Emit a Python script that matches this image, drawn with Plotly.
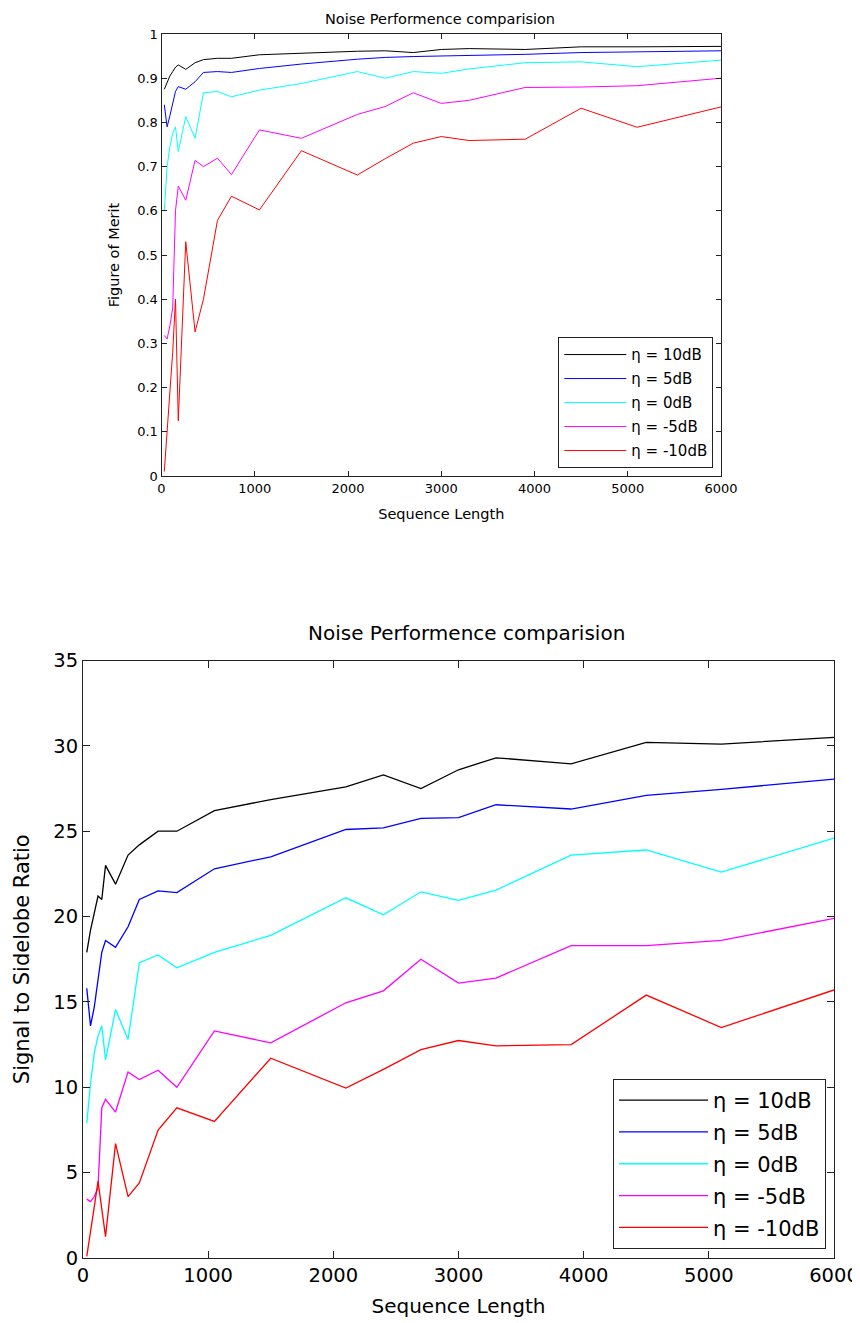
import plotly.graph_objects as go

# ---------------- data ----------------
seq_len = [30, 60, 90, 120, 150, 180, 260, 360, 450, 600, 750, 1050, 1500,
           2100, 2400, 2700, 3000, 3300, 3900, 4500, 5100, 6000]

labels = ["η = 10dB", "η = 5dB", "η = 0dB", "η = -5dB", "η = -10dB"]
colors = ["#000000", "#0000ff", "#00ffff", "#ff00ff", "#ff0000"]

# Figure of Merit (top chart)
fom_10 = [0.875, 0.89, 0.905, 0.915, 0.925, 0.93, 0.92, 0.935, 0.942, 0.945, 0.945,
          0.953, 0.957, 0.961, 0.962, 0.958, 0.965, 0.967, 0.965, 0.971, 0.971, 0.972]
fom_5 = [0.84, 0.79, 0.815, 0.845, 0.87, 0.881, 0.875, 0.892, 0.913, 0.915, 0.913,
         0.922, 0.932, 0.943, 0.947, 0.949, 0.95, 0.951, 0.954, 0.958, 0.96, 0.962]
fom_0 = [0.60, 0.70, 0.745, 0.775, 0.79, 0.734, 0.813, 0.764, 0.867, 0.870, 0.858,
         0.873, 0.888, 0.915, 0.90, 0.915, 0.911, 0.921, 0.935, 0.937, 0.926, 0.941]
fom_m5 = [0.318, 0.31, 0.34, 0.38, 0.60, 0.656, 0.624, 0.714, 0.70, 0.719, 0.682,
          0.783, 0.764, 0.818, 0.836, 0.867, 0.843, 0.85, 0.879, 0.88, 0.883, 0.90]
fom_m10 = [0.01, 0.09, 0.19, 0.28, 0.40, 0.125, 0.53, 0.326, 0.40, 0.578, 0.633,
           0.602, 0.736, 0.681, 0.718, 0.753, 0.768, 0.759, 0.762, 0.832, 0.789, 0.835]

# Signal to Sidelobe Ratio (bottom chart)
ssr_10 = [17.9, 19.2, 20.2, 21.2, 21.0, 23.0, 21.9, 23.6, 24.2, 25.0, 25.0,
          26.2, 26.85, 27.6, 28.3, 27.5, 28.6, 29.3, 28.95, 30.2, 30.1, 30.5]
ssr_5 = [15.8, 13.6, 14.7, 16.4, 17.9, 18.6, 18.2, 19.4, 21.0, 21.5, 21.4,
         22.8, 23.5, 25.1, 25.2, 25.75, 25.8, 26.55, 26.3, 27.1, 27.45, 28.05]
ssr_0 = [7.9, 10.2, 12.0, 13.0, 13.6, 11.6, 14.55, 12.8, 17.3, 17.75, 17.0,
         17.9, 18.9, 21.1, 20.1, 21.45, 20.95, 21.55, 23.6, 23.9, 22.6, 24.6]
ssr_m5 = [3.45, 3.3, 3.6, 4.1, 8.8, 9.3, 8.55, 10.9, 10.45, 11.0, 10.0,
          13.3, 12.6, 14.95, 15.65, 17.5, 16.1, 16.4, 18.3, 18.3, 18.6, 19.9]
ssr_m10 = [0.1, 1.7, 3.0, 4.5, 2.9, 1.25, 6.7, 3.6, 4.4, 7.5, 8.8,
           8.0, 11.7, 9.95, 11.05, 12.2, 12.74, 12.43, 12.5, 15.4, 13.5, 15.7]

x_ticks = [0, 1000, 2000, 3000, 4000, 5000, 6000]
fom_ticks = [0, 0.1, 0.2, 0.3, 0.4, 0.5, 0.6, 0.7, 0.8, 0.9, 1]
fom_ticktext = ["0", "0.1", "0.2", "0.3", "0.4", "0.5", "0.6", "0.7", "0.8", "0.9", "1"]
ssr_ticks = [0, 5, 10, 15, 20, 25, 30, 35]

title_text = "Noise Performence comparision"

# ---------------- figure ----------------
# the page body has an 8px margin, so the figure is 8px smaller and
# screen positions are offset by 8px
OFF = 8
W, H = 860 - OFF, 1323 - OFF
FONT = "DejaVu Sans"
fig = go.Figure()

fom_series = [fom_10, fom_5, fom_0, fom_m5, fom_m10]
ssr_series = [ssr_10, ssr_5, ssr_0, ssr_m5, ssr_m10]

for i, (lab, col, ys) in enumerate(zip(labels, colors, fom_series)):
    fig.add_trace(go.Scatter(x=seq_len, y=ys, mode="lines", name=lab,
                             line=dict(color=col, width=1),
                             xaxis="x", yaxis="y", legend="legend",
                             legendgroup="a%d" % i))
for i, (lab, col, ys) in enumerate(zip(labels, colors, ssr_series)):
    fig.add_trace(go.Scatter(x=seq_len, y=ys, mode="lines", name=lab,
                             line=dict(color=col, width=1.3),
                             xaxis="x2", yaxis="y2", legend="legend2",
                             legendgroup="b%d" % i))

def px_x(p):
    return (p - OFF) / W

def px_y(p):
    return 1 - (p - OFF) / H

axis_common = dict(showline=True, linecolor="#222222", linewidth=1, mirror="ticks",
                   ticks="inside", tickcolor="#222222", showgrid=False, zeroline=False,
                   automargin=False)

fig.update_layout(
    width=W, height=H,
    margin=dict(l=0, r=0, t=0, b=0, autoexpand=False),
    paper_bgcolor="white", plot_bgcolor="white",
    font=dict(family=FONT, color="#000000"),
    xaxis=dict(domain=[px_x(161.5), px_x(721)], range=[0, 6000], anchor="y",
               tickvals=x_ticks, ticklen=5, tickfont=dict(size=13),
               title=dict(text="Sequence Length", font=dict(size=14.5), standoff=14),
               **axis_common),
    yaxis=dict(domain=[px_y(476), px_y(34)], range=[0, 1], anchor="x",
               tickvals=fom_ticks, ticktext=fom_ticktext, ticklen=5,
               tickfont=dict(size=13),
               title=dict(text="Figure of Merit", font=dict(size=14.5), standoff=14),
               **axis_common),
    xaxis2=dict(domain=[px_x(83), px_x(834)], range=[0, 6000], anchor="y2",
                tickvals=x_ticks, ticklen=7, tickfont=dict(size=19.5),
                title=dict(text="Sequence Length", font=dict(size=20), standoff=12),
                **axis_common),
    yaxis2=dict(domain=[px_y(1258), px_y(660.5)], range=[0, 35], anchor="x2",
                tickvals=ssr_ticks, ticklen=7, tickfont=dict(size=19.5),
                title=dict(text="Signal to Sidelobe Ratio", font=dict(size=21), standoff=17),
                **axis_common),
    legend=dict(x=px_x(713.3), y=px_y(468.3), xanchor="right", yanchor="bottom",
                bgcolor="white", bordercolor="#222222", borderwidth=1,
                font=dict(size=15), tracegroupgap=1.5, itemwidth=62,
                entrywidth=95, entrywidthmode="pixels"),
    legend2=dict(x=px_x(826), y=px_y(1249), xanchor="right", yanchor="bottom",
                 bgcolor="white", bordercolor="#222222", borderwidth=1,
                 font=dict(size=21), tracegroupgap=1.5, itemwidth=89,
                 entrywidth=125, entrywidthmode="pixels"),
    annotations=[
        dict(text=title_text, x=px_x(440), y=px_y(9), xref="paper", yref="paper",
             showarrow=False, font=dict(size=14.5), xanchor="center", yanchor="top"),
        dict(text=title_text, x=px_x(467), y=px_y(633), xref="paper", yref="paper",
             showarrow=False, font=dict(size=20), xanchor="center", yanchor="middle"),
    ],
)

fig.write_html("out.html")
